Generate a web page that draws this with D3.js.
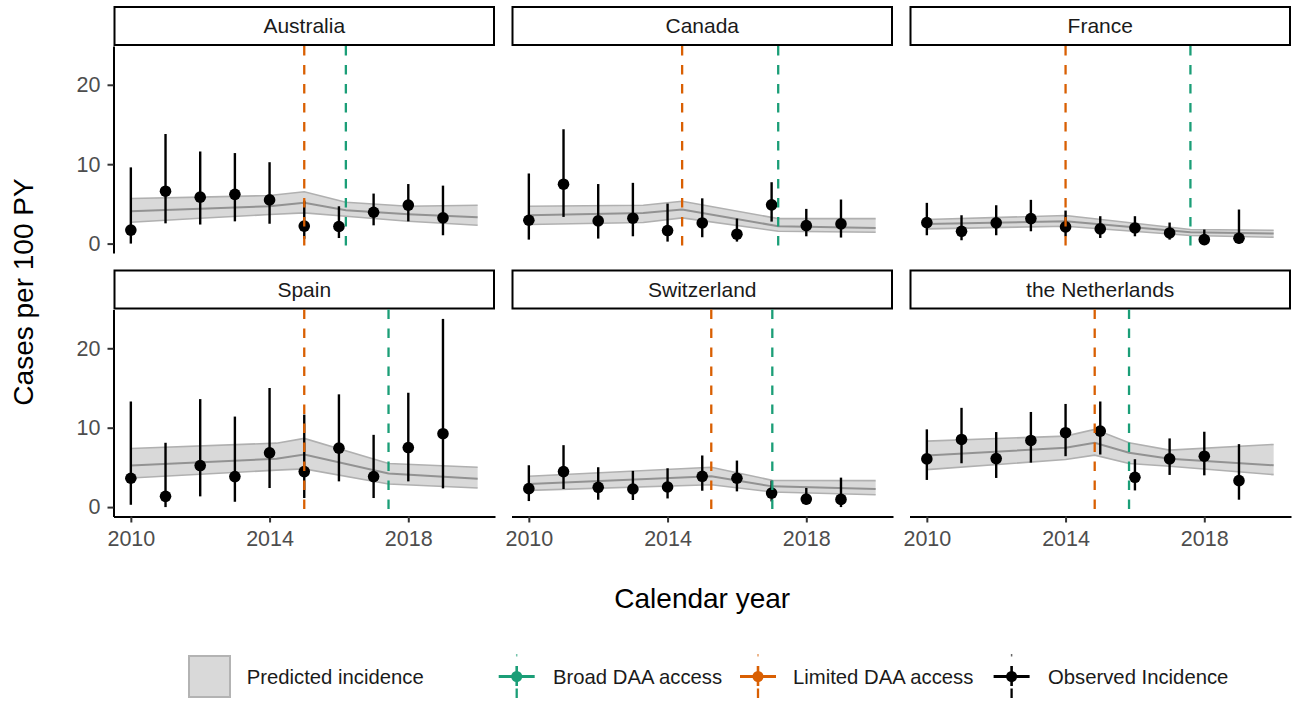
<!DOCTYPE html>
<html><head><meta charset="utf-8">
<script src="https://cdn.jsdelivr.net/npm/d3@7"></script>
<style>
body{margin:0;background:#fff}
svg{display:block}
text{font-family:"Liberation Sans",Arial,Helvetica,sans-serif}
</style>
</head><body>
<svg id="chart" width="1301" height="702"></svg>
<script>
// ---------------- DATA ----------------
const countries = ["Australia","Canada","France","Spain","Switzerland","the Netherlands"];
const years = [2010,2011,2012,2013,2014,2015,2016,2017,2018,2019];

// Observed incidence (cases per 100 PY) with 95% CI
const obsAustralia = [1.7, 6.6, 5.85, 6.2, 5.5, 2.2, 2.15, 3.95, 4.85, 3.25];
const loAustralia  = [0.0, 2.55, 2.4, 2.8, 2.5, 0.6, 0.7, 2.3, 2.8, 1.05];
const hiAustralia  = [9.6, 13.8, 11.6, 11.4, 10.25, 5.4, 4.7, 6.3, 7.5, 7.3];

const obsCanada = [2.94, 7.48, 2.86, 3.2, 1.64, 2.6, 1.18, 4.88, 2.27, 2.48];
const loCanada  = [0.5, 3.36, 0.63, 0.92, 0.25, 0.8, 0.25, 2.77, 0.92, 0.76];
const hiCanada  = [8.83, 14.4, 7.5, 7.65, 5.04, 5.7, 3.15, 7.73, 4.37, 5.55];

const obsFrance = [2.65, 1.55, 2.61, 3.15, 2.1, 1.85, 1.97, 1.34, 0.5, 0.67];
const loFrance  = [1.05, 0.42, 1.05, 1.55, 0.92, 0.71, 0.92, 0.5, 0.0, 0.0];
const hiFrance  = [5.13, 3.57, 4.83, 5.51, 4.16, 3.45, 3.45, 2.65, 1.77, 4.29];

const obsSpain = [3.63, 1.35, 5.23, 3.84, 6.84, 4.47, 7.42, 3.84, 7.5, 9.24];
const loSpain  = [0.29, 0.0, 1.35, 0.67, 2.4, 1.14, 3.24, 1.14, 3.24, 2.36];
const hiSpain  = [13.3, 8.1, 13.6, 11.4, 15.0, 11.65, 14.2, 9.1, 14.4, 23.7];

const obsSwitzerland = [2.32, 4.47, 2.49, 2.28, 2.53, 3.88, 3.63, 1.77, 1.01, 0.97];
const loSwitzerland  = [0.76, 2.28, 0.93, 0.89, 1.09, 2.06, 1.98, 0.71, 0.29, 0.0];
const hiSwitzerland  = [5.27, 7.8, 5.02, 4.56, 4.89, 6.5, 5.86, 3.33, 2.41, 3.71];

const obsNetherlands = [6.07, 8.52, 6.11, 8.39, 9.37, 9.57, 3.75, 6.07, 6.41, 3.33];
const loNetherlands  = [3.42, 5.52, 3.67, 5.6, 6.41, 6.62, 2.1, 4.05, 4.0, 0.93];
const hiNetherlands  = [9.79, 12.5, 9.45, 11.98, 12.99, 13.3, 6.03, 8.65, 9.49, 7.93];

// Predicted incidence ribbon (knots)
const predXAustralia   = [2010, 2012, 2014, 2015, 2016.2, 2018, 2020];
const predHiAustralia  = [5.67, 5.85, 6.05, 6.52, 5.21, 4.71, 4.83];
const predMidAustralia = [4.08, 4.4, 4.71, 5.13, 4.2, 3.7, 3.32];
const predLoAustralia  = [2.69, 3.2, 3.66, 3.87, 3.45, 2.82, 2.31];

const predXCanada   = [2010, 2013.3, 2014.42, 2017.19, 2020];
const predHiCanada  = [4.71, 4.83, 5.34, 3.15, 3.15];
const predMidCanada = [3.57, 3.85, 4.29, 2.19, 1.97];
const predLoCanada  = [2.4, 2.65, 3.24, 1.55, 1.43];

const predXFrance   = [2010, 2014.0, 2017.6, 2020];
const predHiFrance  = [3.03, 3.53, 1.77, 1.68];
const predMidFrance = [2.48, 2.82, 1.43, 1.26];
const predLoFrance  = [1.85, 2.19, 1.01, 0.8];

const predXSpain   = [2010, 2014.2, 2015, 2017.43, 2020];
const predHiSpain  = [7.38, 8.05, 8.65, 5.48, 5.01];
const predMidSpain = [5.23, 6.1, 6.62, 4.22, 3.58];
const predLoSpain  = [3.67, 4.65, 4.81, 2.91, 2.41];

const predXSwitzerland   = [2010, 2015.26, 2017.02, 2020];
const predHiSwitzerland  = [3.88, 5.02, 3.37, 3.33];
const predMidSwitzerland = [2.91, 3.88, 2.61, 2.28];
const predLoSwitzerland  = [2.11, 2.82, 1.9, 1.56];

const predXNetherlands   = [2010, 2014, 2014.84, 2015.83, 2017, 2020];
const predHiNetherlands  = [8.31, 8.94, 9.79, 8.1, 7.17, 7.89];
const predMidNetherlands = [6.5, 7.47, 8.1, 6.84, 6.08, 5.27];
const predLoNetherlands  = [4.72, 5.99, 6.54, 5.48, 5.14, 4.09];

// DAA access dates (decimal year), in the order of `countries`
const limitedDAA = [2015.0, 2014.42, 2014.0, 2015.0, 2015.26, 2014.84];
const broadDAA   = [2016.2, 2017.19, 2017.6, 2017.43, 2017.02, 2015.83];

const xTicks = [2010, 2014, 2018];
const yTicks = [0, 10, 20];
const legendLabels = ["Predicted incidence", "Broad DAA access", "Limited DAA access", "Observed Incidence"];

// --------------- TABLES ---------------
const obsArr = [obsAustralia, obsCanada, obsFrance, obsSpain, obsSwitzerland, obsNetherlands];
const loArr  = [loAustralia, loCanada, loFrance, loSpain, loSwitzerland, loNetherlands];
const hiArr  = [hiAustralia, hiCanada, hiFrance, hiSpain, hiSwitzerland, hiNetherlands];
const pX  = [predXAustralia, predXCanada, predXFrance, predXSpain, predXSwitzerland, predXNetherlands];
const pHi = [predHiAustralia, predHiCanada, predHiFrance, predHiSpain, predHiSwitzerland, predHiNetherlands];
const pMd = [predMidAustralia, predMidCanada, predMidFrance, predMidSpain, predMidSwitzerland, predMidNetherlands];
const pLo = [predLoAustralia, predLoCanada, predLoFrance, predLoSpain, predLoSwitzerland, predLoNetherlands];

const panels = countries.map((c, i) => ({
  name: c,
  obs: years.map((yr, j) => ({year: yr, v: obsArr[i][j], lo: loArr[i][j], hi: hiArr[i][j]})),
  pred: pX[i].map((x, j) => ({x: x, lo: pLo[i][j], mid: pMd[i][j], hi: pHi[i][j]})),
  limited: limitedDAA[i],
  broad: broadDAA[i]
}));

// --------------- LAYOUT ---------------
const GREEN = "#1B9E77", ORANGE = "#D95F02";
const FONT_TICK = 21.5, FONT_STRIP = 21, FONT_TITLE = 28, FONT_LEG = 20.3;
const colLeft = [113.5, 511.5, 909.5];
const pw = 381.5;
const stripTop = [6, 269.5];
const stripH = 40;
const ph = 207;

const svg = d3.select("#chart");

// shared scales (fixed scales across facets)
const allX = pX.flat();
const xExt = d3.extent(allX);
const xPad = (xExt[1] - xExt[0]) * 0.05;
const allY = hiArr.flat().concat(loArr.flat(), pHi.flat(), pLo.flat());
const yExt = [Math.min(0, d3.min(allY)), d3.max(allY)];
const yPad = (yExt[1] - yExt[0]) * 0.05;

const x = d3.scaleLinear().domain([xExt[0] - xPad, xExt[1] + xPad]).range([0, pw]);
const y = d3.scaleLinear().domain([yExt[0] - yPad, yExt[1] + yPad]).range([ph, 0]);

const area = d3.area().x(d => x(d.x)).y0(d => y(d.lo)).y1(d => y(d.hi));
const lineHi = d3.line().x(d => x(d.x)).y(d => y(d.hi));
const lineLo = d3.line().x(d => x(d.x)).y(d => y(d.lo));
const lineMid = d3.line().x(d => x(d.x)).y(d => y(d.mid));

panels.forEach((p, i) => {
  const col = i % 3, row = Math.floor(i / 3);
  const px = colLeft[col], sy = stripTop[row], py = sy + stripH;

  // strip
  svg.append("rect").attr("x", px + 1).attr("y", sy + 1).attr("width", pw - 2).attr("height", stripH - 2)
    .attr("fill", "#fff").attr("stroke", "#000").attr("stroke-width", 2);
  svg.append("text").attr("x", px + pw / 2).attr("y", sy + stripH / 2).attr("dy", "0.35em")
    .attr("text-anchor", "middle").attr("font-size", FONT_STRIP).attr("fill", "#1a1a1a").text(p.name);

  const g = svg.append("g").attr("transform", `translate(${px},${py})`);

  // ribbon
  g.append("path").datum(p.pred).attr("d", area).attr("fill", "#d9d9d9");
  g.append("path").datum(p.pred).attr("d", lineHi).attr("fill", "none").attr("stroke", "#b0b0b0").attr("stroke-width", 1.6);
  g.append("path").datum(p.pred).attr("d", lineLo).attr("fill", "none").attr("stroke", "#b0b0b0").attr("stroke-width", 1.6);
  g.append("path").datum(p.pred).attr("d", lineMid).attr("fill", "none").attr("stroke", "#929292").attr("stroke-width", 2);

  // observed: error bars + points
  g.selectAll("line.eb").data(p.obs).join("line").attr("class", "eb")
    .attr("x1", d => x(d.year)).attr("x2", d => x(d.year))
    .attr("y1", d => y(d.lo)).attr("y2", d => y(d.hi))
    .attr("stroke", "#000").attr("stroke-width", 2.4);
  g.selectAll("circle.pt").data(p.obs).join("circle").attr("class", "pt")
    .attr("cx", d => x(d.year)).attr("cy", d => y(d.v)).attr("r", 5.8).attr("fill", "#000");

  // DAA vertical lines
  [[p.limited, ORANGE], [p.broad, GREEN]].forEach(([v, c]) => {
    g.append("line").attr("x1", x(v)).attr("x2", x(v)).attr("y1", 0).attr("y2", ph)
      .attr("stroke", c).attr("stroke-width", 2.3).attr("stroke-dasharray", "9.5,9.5");
  });

  // axes (outer panels only)
  if (col === 0) {
    const ax = g.append("g").call(d3.axisLeft(y).tickValues(yTicks).tickSize(6).tickSizeOuter(0).tickPadding(7).tickFormat(d3.format("d")));
    ax.select(".domain").attr("stroke", "#000").attr("stroke-width", 2);
    ax.selectAll(".tick line").attr("stroke", "#333").attr("stroke-width", 2);
    ax.selectAll(".tick text").attr("font-size", FONT_TICK).attr("fill", "#4d4d4d").attr("font-family", null);
  }
  if (row === 1) {
    const ax = g.append("g").attr("transform", `translate(0,${ph})`)
      .call(d3.axisBottom(x).tickValues(xTicks).tickSize(6).tickSizeOuter(0).tickPadding(8).tickFormat(d3.format("d")));
    ax.select(".domain").attr("stroke", "#000").attr("stroke-width", 2);
    ax.selectAll(".tick line").attr("stroke", "#333").attr("stroke-width", 2);
    ax.selectAll(".tick text").attr("font-size", FONT_TICK).attr("fill", "#4d4d4d").attr("font-family", null);
  }
});

// axis titles
svg.append("text").attr("x", (colLeft[0] + colLeft[2] + pw) / 2).attr("y", 608)
  .attr("text-anchor", "middle").attr("font-size", FONT_TITLE).attr("fill", "#000").text("Calendar year");
svg.append("text").attr("transform", "translate(33,292) rotate(-90)")
  .attr("text-anchor", "middle").attr("font-size", FONT_TITLE).attr("fill", "#000").text("Cases per 100 PY");

// legend
const ly = 676.5;
const leg = svg.append("g");
leg.append("rect").attr("x", 189).attr("y", 656).attr("width", 41).attr("height", 41)
  .attr("fill", "#d9d9d9").attr("stroke", "#b3b3b3").attr("stroke-width", 2);
leg.append("text").attr("x", 246.7).attr("y", ly).attr("dy", "0.35em").attr("font-size", FONT_LEG).attr("fill", "#1a1a1a").text(legendLabels[0]);

const keyItems = [
  {cx: 516.7, tx: 553, color: GREEN, label: legendLabels[1]},
  {cx: 758, tx: 793, color: ORANGE, label: legendLabels[2]},
  {cx: 1011.6, tx: 1048, color: "#000", label: legendLabels[3]}
];
keyItems.forEach(k => {
  leg.append("line").attr("x1", k.cx - 18).attr("x2", k.cx + 18).attr("y1", ly).attr("y2", ly)
    .attr("stroke", k.color).attr("stroke-width", 3);
  leg.append("line").attr("x1", k.cx).attr("x2", k.cx).attr("y1", 654).attr("y2", 656.5)
    .attr("stroke", k.color).attr("stroke-width", 1.5).attr("stroke-opacity", 0.6);
  leg.append("line").attr("x1", k.cx).attr("x2", k.cx).attr("y1", 666).attr("y2", 686)
    .attr("stroke", k.color).attr("stroke-width", 2.6);
  leg.append("line").attr("x1", k.cx).attr("x2", k.cx).attr("y1", 688.5).attr("y2", 698)
    .attr("stroke", k.color).attr("stroke-width", 2.3);
  leg.append("circle").attr("cx", k.cx).attr("cy", ly).attr("r", 5.5).attr("fill", k.color);
  leg.append("text").attr("x", k.tx).attr("y", ly).attr("dy", "0.35em").attr("font-size", FONT_LEG).attr("fill", "#1a1a1a").text(k.label);
});
</script>
</body></html>
